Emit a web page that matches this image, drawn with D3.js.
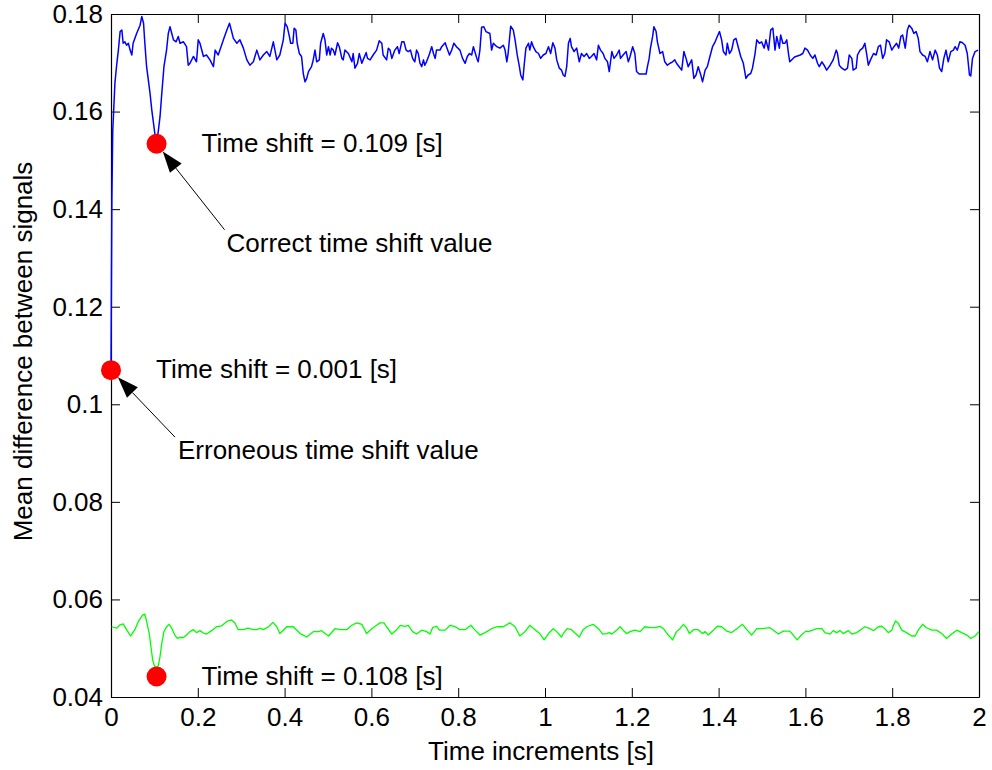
<!DOCTYPE html>
<html>
<head>
<meta charset="utf-8">
<script src="https://cdn.jsdelivr.net/npm/d3@7"></script>
<style>
  html, body { margin: 0; padding: 0; background: #fff; }
  svg { display: block; font-family: "Liberation Sans", Arial, Helvetica, sans-serif; }
</style>
</head>
<body>
<svg id="chart" width="992" height="770"></svg>
<script>
// ---------------- data ----------------
const xTicks = [0, 0.2, 0.4, 0.6, 0.8, 1, 1.2, 1.4, 1.6, 1.8, 2];
const yTicks = [0.04, 0.06, 0.08, 0.1, 0.12, 0.14, 0.16, 0.18];
const xLabel = "Time increments [s]";
const yLabel = "Mean difference between signals";

// blue series: [time (s), mean difference]
const blueSeries = [
[0,0.107],[0.001,0.125],[0.002,0.142],[0.004,0.156],[0.009,0.1658],[0.013,0.1695],[0.017,0.1726],[0.021,0.1764],
[0.025,0.1767],[0.028,0.1740],[0.032,0.1743],[0.036,0.1736],[0.040,0.1740],[0.044,0.1726],[0.048,0.1716],[0.051,0.1740],
[0.059,0.1760],[0.067,0.1777],[0.071,0.1795],[0.075,0.1781],[0.078,0.1740],[0.082,0.1692],[0.086,0.1665],[0.090,0.1637],
[0.094,0.1603],[0.098,0.1576],[0.101,0.1555],[0.105,0.1534],[0.109,0.1560],[0.113,0.1590],[0.117,0.1637],[0.122,0.1692],
[0.128,0.1726],[0.132,0.1760],[0.136,0.1774],[0.140,0.1760],[0.144,0.1747],[0.150,0.1743],[0.155,0.1754],[0.159,0.1740],
[0.167,0.1743],[0.174,0.1733],[0.178,0.1695],[0.182,0.1699],[0.190,0.1713],[0.197,0.1702],[0.201,0.1747],[0.205,0.1740],
[0.213,0.1713],[0.220,0.1716],[0.228,0.1706],[0.236,0.1692],[0.240,0.1726],[0.247,0.1716],[0.251,0.1726],[0.259,0.1747],
[0.267,0.1767],[0.273,0.1781],[0.278,0.1764],[0.282,0.1750],[0.290,0.1740],[0.297,0.1747],[0.305,0.1730],[0.313,0.1706],
[0.320,0.1695],[0.328,0.1702],[0.336,0.1726],[0.343,0.1706],[0.351,0.1716],[0.359,0.1723],[0.366,0.1713],[0.374,0.1743],
[0.382,0.1706],[0.389,0.1716],[0.397,0.1747],[0.401,0.1781],[0.406,0.1774],[0.411,0.1754],[0.414,0.1740],[0.419,0.1740],
[0.422,0.1771],[0.426,0.1767],[0.429,0.1740],[0.434,0.1719],[0.439,0.1713],[0.443,0.1678],[0.447,0.1661],[0.451,0.1668],
[0.455,0.1682],[0.462,0.1692],[0.466,0.1706],[0.470,0.1726],[0.474,0.1702],[0.480,0.1706],[0.483,0.1740],[0.489,0.1760],
[0.493,0.1747],[0.497,0.1716],[0.501,0.1733],[0.505,0.1716],[0.508,0.1730],[0.512,0.1726],[0.516,0.1716],[0.522,0.1741],
[0.526,0.1733],[0.532,0.1709],[0.535,0.1706],[0.539,0.1726],[0.547,0.1719],[0.555,0.1702],[0.558,0.1719],[0.562,0.1689],
[0.568,0.1699],[0.572,0.1719],[0.578,0.1699],[0.581,0.1706],[0.588,0.1721],[0.591,0.1709],[0.597,0.1706],[0.604,0.1716],
[0.612,0.1726],[0.618,0.1745],[0.624,0.1740],[0.627,0.1716],[0.635,0.1706],[0.639,0.1730],[0.643,0.1726],[0.647,0.1709],
[0.654,0.1726],[0.660,0.1733],[0.664,0.1719],[0.670,0.1743],[0.675,0.1743],[0.680,0.1726],[0.685,0.1723],[0.690,0.1726],
[0.695,0.1709],[0.700,0.1702],[0.704,0.1726],[0.708,0.1719],[0.712,0.1699],[0.716,0.1692],[0.720,0.1706],[0.723,0.1695],
[0.727,0.1702],[0.733,0.1716],[0.739,0.1733],[0.743,0.1719],[0.747,0.1709],[0.750,0.1726],[0.758,0.1726],[0.762,0.1733],
[0.770,0.1741],[0.773,0.1733],[0.780,0.1716],[0.785,0.1726],[0.790,0.1740],[0.796,0.1733],[0.804,0.1726],[0.810,0.1709],
[0.816,0.1699],[0.821,0.1713],[0.826,0.1719],[0.831,0.1716],[0.835,0.1733],[0.843,0.1709],[0.846,0.1702],[0.850,0.1726],
[0.854,0.1773],[0.859,0.1774],[0.864,0.1764],[0.873,0.1760],[0.877,0.1726],[0.881,0.1740],[0.889,0.1733],[0.896,0.1730],
[0.904,0.1736],[0.908,0.1726],[0.912,0.1702],[0.915,0.1719],[0.921,0.1775],[0.927,0.1767],[0.931,0.1747],[0.936,0.1716],
[0.941,0.1692],[0.944,0.1675],[0.949,0.1665],[0.952,0.1695],[0.956,0.1730],[0.962,0.1740],[0.965,0.1726],[0.969,0.1743],
[0.973,0.1733],[0.979,0.1723],[0.985,0.1719],[0.990,0.1709],[0.996,0.1716],[1.002,0.1719],[1.008,0.1733],[1.013,0.1719],
[1.018,0.1741],[1.023,0.1730],[1.027,0.1706],[1.033,0.1689],[1.038,0.1685],[1.042,0.1675],[1.046,0.1672],[1.050,0.1692],
[1.054,0.1740],[1.058,0.1750],[1.061,0.1733],[1.067,0.1723],[1.073,0.1730],[1.079,0.1702],[1.084,0.1719],[1.090,0.1713],
[1.096,0.1719],[1.102,0.1709],[1.107,0.1713],[1.113,0.1719],[1.119,0.1706],[1.123,0.1736],[1.128,0.1726],[1.134,0.1719],
[1.138,0.1709],[1.144,0.1702],[1.148,0.1682],[1.154,0.1723],[1.159,0.1709],[1.165,0.1716],[1.171,0.1726],[1.174,0.1709],
[1.180,0.1716],[1.187,0.1723],[1.192,0.1702],[1.196,0.1713],[1.202,0.1733],[1.207,0.1719],[1.211,0.1682],[1.217,0.1677],
[1.225,0.1677],[1.233,0.1677],[1.236,0.1692],[1.240,0.1709],[1.243,0.1730],[1.248,0.1754],[1.251,0.1774],[1.256,0.1764],
[1.259,0.1743],[1.265,0.1719],[1.271,0.1723],[1.276,0.1702],[1.282,0.1695],[1.288,0.1699],[1.294,0.1702],[1.299,0.1706],
[1.303,0.1699],[1.309,0.1692],[1.315,0.1685],[1.320,0.1723],[1.325,0.1709],[1.330,0.1692],[1.338,0.1706],[1.343,0.1668],
[1.348,0.1675],[1.353,0.1692],[1.359,0.1675],[1.363,0.1661],[1.369,0.1685],[1.374,0.1692],[1.380,0.1713],[1.386,0.1733],
[1.392,0.1743],[1.397,0.1754],[1.402,0.1764],[1.407,0.1747],[1.411,0.1723],[1.417,0.1716],[1.420,0.1740],[1.425,0.1719],
[1.430,0.1726],[1.435,0.1747],[1.440,0.1750],[1.445,0.1733],[1.451,0.1713],[1.457,0.1699],[1.463,0.1668],[1.468,0.1675],
[1.474,0.1678],[1.478,0.1689],[1.484,0.1719],[1.488,0.1747],[1.494,0.1740],[1.499,0.1743],[1.505,0.1730],[1.509,0.1747],
[1.515,0.1726],[1.520,0.1767],[1.525,0.1771],[1.530,0.1726],[1.534,0.1754],[1.540,0.1730],[1.543,0.1757],[1.548,0.1740],
[1.553,0.1740],[1.557,0.1747],[1.561,0.1719],[1.564,0.1702],[1.575,0.1712],[1.588,0.1716],[1.594,0.1719],[1.599,0.1730],
[1.605,0.1726],[1.611,0.1716],[1.617,0.1709],[1.622,0.1716],[1.628,0.1699],[1.632,0.1692],[1.638,0.1702],[1.643,0.1695],
[1.649,0.1685],[1.657,0.1695],[1.664,0.1706],[1.671,0.1726],[1.674,0.1719],[1.678,0.1695],[1.684,0.1689],[1.691,0.1685],
[1.697,0.1689],[1.701,0.1716],[1.707,0.1709],[1.710,0.1685],[1.717,0.1689],[1.720,0.1716],[1.726,0.1726],[1.732,0.1730],
[1.737,0.1740],[1.741,0.1719],[1.745,0.1695],[1.750,0.1706],[1.757,0.1719],[1.763,0.1716],[1.768,0.1733],[1.773,0.1736],
[1.778,0.1709],[1.783,0.1719],[1.787,0.1747],[1.793,0.1743],[1.799,0.1726],[1.804,0.1733],[1.810,0.1740],[1.815,0.1730],
[1.820,0.1754],[1.824,0.1757],[1.830,0.1730],[1.835,0.1767],[1.839,0.1777],[1.845,0.1771],[1.850,0.1760],[1.855,0.1764],
[1.860,0.1750],[1.864,0.1723],[1.870,0.1716],[1.876,0.1713],[1.881,0.1702],[1.887,0.1723],[1.893,0.1706],[1.899,0.1726],
[1.904,0.1716],[1.909,0.1689],[1.914,0.1682],[1.919,0.1709],[1.924,0.1726],[1.929,0.1702],[1.935,0.1723],[1.941,0.1726],
[1.945,0.1733],[1.950,0.1726],[1.956,0.1743],[1.962,0.1741],[1.968,0.1736],[1.973,0.1719],[1.978,0.1675],[1.981,0.1673],
[1.985,0.1709],[1.991,0.1723],[1.998,0.1726]
];

// green series: [time (s), mean difference]
const greenSeries = [
[0.0015,0.0544],[0.013,0.0541],[0.021,0.0548],[0.028,0.0550],[0.036,0.0538],[0.045,0.0525],[0.055,0.0538],[0.063,0.0555],
[0.073,0.0568],[0.078,0.0570],[0.082,0.0555],[0.088,0.0531],[0.092,0.0503],[0.096,0.0476],[0.100,0.0464],[0.105,0.0460],
[0.109,0.0464],[0.113,0.0483],[0.117,0.0510],[0.122,0.0534],[0.128,0.0544],[0.134,0.0549],[0.140,0.0541],[0.147,0.0527],
[0.153,0.0520],[0.159,0.0522],[0.167,0.0522],[0.174,0.0527],[0.182,0.0534],[0.190,0.0538],[0.197,0.0532],[0.205,0.0536],
[0.213,0.0531],[0.220,0.0529],[0.232,0.0536],[0.243,0.0544],[0.255,0.0546],[0.267,0.0555],[0.278,0.0558],[0.286,0.0551],
[0.293,0.0538],[0.305,0.0538],[0.316,0.0541],[0.328,0.0538],[0.336,0.0538],[0.343,0.0541],[0.351,0.0538],[0.363,0.0544],
[0.373,0.0553],[0.382,0.0544],[0.389,0.0530],[0.397,0.0537],[0.405,0.0544],[0.420,0.0544],[0.436,0.0530],[0.451,0.0523],
[0.466,0.0534],[0.478,0.0534],[0.485,0.0536],[0.501,0.0525],[0.516,0.0540],[0.528,0.0538],[0.543,0.0538],[0.555,0.0547],
[0.566,0.0552],[0.578,0.0549],[0.589,0.0530],[0.601,0.0540],[0.612,0.0547],[0.620,0.0552],[0.629,0.0552],[0.635,0.0544],
[0.647,0.0529],[0.658,0.0538],[0.667,0.0547],[0.677,0.0545],[0.685,0.0547],[0.695,0.0534],[0.704,0.0529],[0.716,0.0537],
[0.727,0.0534],[0.735,0.0529],[0.741,0.0542],[0.750,0.0545],[0.757,0.0537],[0.770,0.0537],[0.781,0.0547],[0.793,0.0544],
[0.804,0.0538],[0.816,0.0538],[0.829,0.0547],[0.839,0.0537],[0.850,0.0527],[0.862,0.0532],[0.877,0.0540],[0.889,0.0544],
[0.904,0.0544],[0.919,0.0552],[0.931,0.0544],[0.942,0.0525],[0.954,0.0534],[0.965,0.0547],[0.977,0.0538],[0.988,0.0530],
[0.998,0.0517],[1.008,0.0530],[1.019,0.0540],[1.027,0.0534],[1.038,0.0523],[1.042,0.0530],[1.051,0.0540],[1.061,0.0538],
[1.079,0.0523],[1.088,0.0538],[1.096,0.0544],[1.111,0.0549],[1.123,0.0540],[1.133,0.0529],[1.142,0.0530],[1.148,0.0532],
[1.154,0.0529],[1.165,0.0537],[1.173,0.0544],[1.180,0.0537],[1.188,0.0530],[1.196,0.0534],[1.207,0.0537],[1.219,0.0534],
[1.230,0.0544],[1.242,0.0542],[1.253,0.0542],[1.265,0.0545],[1.273,0.0540],[1.284,0.0527],[1.294,0.0517],[1.303,0.0534],
[1.311,0.0540],[1.319,0.0549],[1.326,0.0542],[1.333,0.0530],[1.342,0.0538],[1.353,0.0538],[1.363,0.0530],[1.369,0.0534],
[1.376,0.0527],[1.388,0.0537],[1.397,0.0545],[1.407,0.0544],[1.419,0.0535],[1.430,0.0532],[1.442,0.0540],[1.455,0.0549],
[1.465,0.0538],[1.476,0.0527],[1.488,0.0540],[1.499,0.0540],[1.518,0.0542],[1.526,0.0537],[1.538,0.0529],[1.549,0.0535],
[1.564,0.0535],[1.572,0.0527],[1.581,0.0517],[1.591,0.0527],[1.601,0.0535],[1.607,0.0534],[1.617,0.0537],[1.626,0.0540],
[1.638,0.0540],[1.645,0.0532],[1.657,0.0529],[1.664,0.0536],[1.672,0.0532],[1.680,0.0536],[1.687,0.0530],[1.699,0.0536],
[1.707,0.0529],[1.718,0.0532],[1.726,0.0537],[1.737,0.0544],[1.749,0.0540],[1.757,0.0536],[1.768,0.0544],[1.776,0.0545],
[1.783,0.0540],[1.791,0.0532],[1.799,0.0537],[1.803,0.0547],[1.808,0.0556],[1.814,0.0551],[1.822,0.0537],[1.833,0.0532],
[1.845,0.0525],[1.853,0.0525],[1.860,0.0537],[1.870,0.0549],[1.879,0.0542],[1.891,0.0537],[1.902,0.0537],[1.914,0.0530],
[1.925,0.0520],[1.937,0.0529],[1.949,0.0537],[1.960,0.0532],[1.972,0.0527],[1.981,0.0520],[1.991,0.0525],[2.000,0.0534]
];

// highlighted points
const markerTimes  = [0, 0.105, 0.105];
const markerValues = [0.107, 0.1534, 0.0442];
const markerLabels = ["Time shift = 0.001 [s]", "Time shift = 0.109 [s]", "Time shift = 0.108 [s]"];
const arrowLabels  = ["Erroneous time shift value", "Correct time shift value"];

// ---------------- layout ----------------
const svg = d3.select("#chart");
const L = 111, R = 979, T = 14, B = 697;
const FONT = 26;

const x = d3.scaleLinear().domain([0, 2]).range([L, R]);
const y = d3.scaleLinear().domain([0.04, 0.18]).range([B, T]);

// axes (ticks pointing inward, MATLAB box style)
const gx = svg.append("g").attr("transform", `translate(0,${B})`)
  .call(d3.axisBottom(x).tickValues(xTicks).tickFormat(d => String(d))
    .tickSizeInner(-9).tickSizeOuter(0).tickPadding(11));
const gy = svg.append("g").attr("transform", `translate(${L},0)`)
  .call(d3.axisLeft(y).tickValues(yTicks).tickFormat(d => String(d))
    .tickSizeInner(-9).tickSizeOuter(0).tickPadding(8));
const gt = svg.append("g").attr("transform", `translate(0,${T})`)
  .call(d3.axisTop(x).tickValues(xTicks).tickFormat("").tickSizeInner(-9).tickSizeOuter(0));
const gr = svg.append("g").attr("transform", `translate(${R},0)`)
  .call(d3.axisRight(y).tickValues(yTicks).tickFormat("").tickSizeInner(-9).tickSizeOuter(0));

[gx, gy, gt, gr].forEach(g => {
  g.selectAll("path.domain").attr("stroke", "#000").attr("stroke-width", 1.2);
  g.selectAll(".tick line").attr("stroke", "#000").attr("stroke-width", 1);
  g.selectAll("text").attr("font-size", FONT).attr("font-family", "Liberation Sans, Arial, sans-serif").attr("fill", "#000");
});

// axis titles
svg.append("text")
  .attr("x", (L + R) / 2 - 4).attr("y", 760)
  .attr("text-anchor", "middle").attr("font-size", FONT)
  .text(xLabel);
svg.append("text")
  .attr("transform", `translate(32,${(T + B) / 2 - 4}) rotate(-90)`)
  .attr("text-anchor", "middle").attr("font-size", FONT)
  .text(yLabel);

// lines
const line = d3.line().x(d => x(d[0])).y(d => y(d[1]));
svg.append("path").datum(greenSeries)
  .attr("d", line).attr("fill", "none").attr("stroke", "#00ff00").attr("stroke-width", 1.3)
  .attr("stroke-linejoin", "round");
svg.append("path").datum(blueSeries)
  .attr("d", line).attr("fill", "none").attr("stroke", "#0000ff").attr("stroke-width", 1.5)
  .attr("stroke-linejoin", "round");

// markers
const R_DOT = 10;
markerTimes.forEach((t, i) => {
  const cx = x(t), cy = y(markerValues[i]);
  svg.append("circle").attr("cx", cx).attr("cy", cy).attr("r", R_DOT).attr("fill", "#ff0000");
  svg.append("text").attr("x", cx + 45).attr("y", cy + 8)
    .attr("font-size", FONT).text(markerLabels[i]);
});

// arrows with labels
function arrow(cx, cy, sx, sy) {
  const dx = cx - sx, dy = cy - sy, len = Math.hypot(dx, dy);
  const ux = dx / len, uy = dy / len;
  const tx = cx - ux * R_DOT, ty = cy - uy * R_DOT;   // tip at dot edge
  const hl = 21, hw = 7.5;
  const bx = tx - ux * hl, by = ty - uy * hl;
  svg.append("line").attr("x1", sx).attr("y1", sy).attr("x2", bx).attr("y2", by)
    .attr("stroke", "#000").attr("stroke-width", 1);
  svg.append("path")
    .attr("d", `M${tx},${ty}L${bx - uy * hw},${by + ux * hw}L${bx + uy * hw},${by - ux * hw}Z`)
    .attr("fill", "#000");
}
// erroneous (first marker)
{
  const cx = x(markerTimes[0]), cy = y(markerValues[0]);
  arrow(cx, cy, cx + 64, cy + 67);
  svg.append("text").attr("x", cx + 67).attr("y", cy + 89).attr("font-size", FONT).text(arrowLabels[0]);
}
// correct (second marker)
{
  const cx = x(markerTimes[1]), cy = y(markerValues[1]);
  arrow(cx, cy, cx + 68, cy + 86);
  svg.append("text").attr("x", cx + 70).attr("y", cy + 108).attr("font-size", FONT).text(arrowLabels[1]);
}
</script>
</body>
</html>
